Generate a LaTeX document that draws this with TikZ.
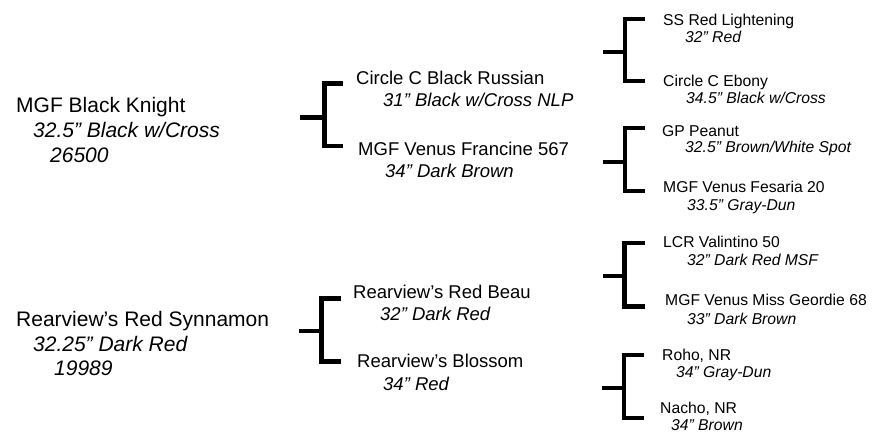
\documentclass[tikz,border=0pt]{standalone}
\usepackage{fontspec}
\setmainfont{Liberation Sans}
\begin{document}
\begin{tikzpicture}[x=1pt,y=-1pt,
  txt/.style={inner sep=0pt, anchor=base west},
  nameA/.style={txt, font=\fontsize{21}{24}\selectfont},
  infoA/.style={txt, font=\fontsize{21}{24}\selectfont\itshape},
  nameB/.style={txt, font=\fontsize{18.5}{22}\selectfont},
  infoB/.style={txt, font=\fontsize{18.5}{22}\selectfont\itshape},
  nameC/.style={txt, font=\fontsize{15.7}{18}\selectfont},
  infoC/.style={txt, font=\fontsize{15.7}{18}\selectfont\itshape},
  bracket/.style={line width=4.5pt, line join=miter}]
\useasboundingbox (0,0) rectangle (875,433);

% generation 1
\node[nameA] (bk1) at (16,113) {MGF Black Knight};
\node[infoA] (bk2) at (33,138) {32.5” Black w/Cross};
\node[infoA] (bk3) at (50,162) {26500};
\node[nameA] (rs1) at (16,326) {Rearview’s Red Synnamon};
\node[infoA] (rs2) at (33,351) {32.25” Dark Red};
\node[infoA] (rs3) at (54,375) {19989};

% generation 2
\node[nameB] (cr1) at (356,85) {Circle C Black Russian};
\node[infoB] (cr2) at (383,107) {31” Black w/Cross NLP};
\node[nameB] (vf1) at (358,155) {MGF Venus Francine 567};
\node[infoB] (vf2) at (385,177) {34” Dark Brown};
\node[nameB] (rb1) at (353,298) {Rearview’s Red Beau};
\node[infoB] (rb2) at (380,320) {32” Dark Red};
\node[nameB] (bl1) at (357,367) {Rearview’s Blossom};
\node[infoB] (bl2) at (383,390) {34” Red};

% generation 3
\node[nameC] (ss1) at (663,26) {SS Red Lightening};
\node[infoC] (ss2) at (685,43) {32” Red};
\node[nameC] (ce1) at (663,87) {Circle C Ebony};
\node[infoC] (ce2) at (686,104) {34.5” Black w/Cross};
\node[nameC] (gp1) at (662,136) {GP Peanut};
\node[infoC] (gp2) at (685,153) {32.5” Brown/White Spot};
\node[nameC] (fe1) at (663,192) {MGF Venus Fesaria 20};
\node[infoC] (fe2) at (687,210) {33.5” Gray-Dun};
\node[nameC] (lc1) at (663,247) {LCR Valintino 50};
\node[infoC] (lc2) at (687,265) {32” Dark Red MSF};
\node[nameC] (mg1) at (665,305) {MGF Venus Miss Geordie 68};
\node[infoC] (mg2) at (687,324) {33” Dark Brown};
\node[nameC] (ro1) at (662,360) {Roho, NR};
\node[infoC] (ro2) at (676,377) {34” Gray-Dun};
\node[nameC] (na1) at (660,413) {Nacho, NR};
\node[infoC] (na2) at (671,430) {34” Brown};

% bracket coordinates: stub start, vertical x, top y, mid y, bottom y, arm end x
\foreach \nm/\sx/\vx/\ty/\my/\by/\ex in {
  A/300/324.5/83.5/117.5/146/343,
  B/299/321.5/298.5/331/361.5/341,
  C/603/625/19/52/81/645,
  D/603/625/128/162/191/645,
  E/603/624.5/243/276/306.5/645,
  F/602/624/355/388/418/644}{
  \coordinate (s\nm) at (\sx,\my);
  \coordinate (m\nm) at (\vx,\my);
  \coordinate (t\nm) at (\ex,\ty);
  \coordinate (b\nm) at (\ex,\by);
  \draw[bracket] (t\nm) -| (b\nm -| m\nm) -- (b\nm);
  \draw[bracket] (s\nm) -- (m\nm);
}
\end{tikzpicture}
\end{document}
